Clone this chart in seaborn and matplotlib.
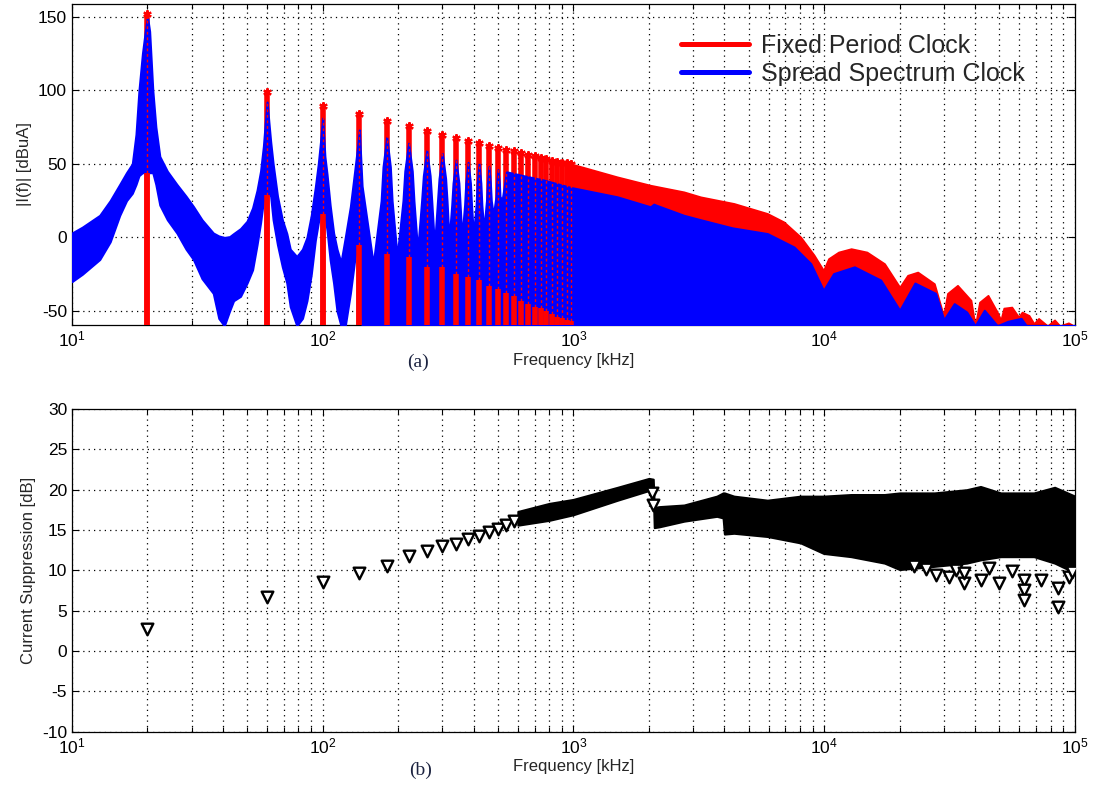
import matplotlib
matplotlib.use("Agg")
import matplotlib.pyplot as plt
from matplotlib.lines import Line2D
import seaborn as sns

# ---- (a) spectrum, values ----
# odd harmonics of the 20 kHz clock that show as separate red stems
harm_f = [20, 60, 100, 140, 180, 220, 260, 300, 340, 380, 420, 460, 500,
          540, 580, 620, 660, 700, 740, 780, 820, 860, 900, 940, 980]
red_peak = [152, 99, 89.5, 84, 79, 75.5, 72, 69.5, 67.5, 65.5, 64, 62, 61,
            59.5, 58.5, 57.5, 56, 55, 54, 53, 52, 51.5, 50.8, 50.3, 50]
# top of the solid part of each red stem (below the blue band)
red_base = [44, 29, 16, -5, -11, -13, -20, -20, -25, -27, -29, -33, -35,
            -38, -40, -43, -45, -47, -48, -50, -52, -54, -55, -56, -57]

# red envelope where the stems merge (kHz, dBuA)
red_env_f = [980, 1494, 2028, 2757, 3214, 4365, 5935, 6902, 8057, 9113, 9930,
             10400, 11400, 12800, 14800, 17400, 20000, 21500, 23600, 27500,
             29900, 31000, 34000, 38500, 40000, 41600, 45000, 49000, 50600,
             52000, 56000, 59600, 61500, 65600, 68600, 71600, 77700, 82900,
             87000, 94200, 98900]
red_env_v = [50, 41.2, 35.5, 31, 27.6, 23.1, 16.3, 10.6, 0.3, -12, -22.3,
             -14.4, -9.9, -7.6, -9.9, -17.8, -33.7, -25.7, -23.5, -31.4,
             -53, -38, -32.5, -42.7, -60, -44, -39.3, -50.7, -56,
             -48, -47.3, -54, -50.7, -53, -58.5, -55, -60, -56,
             -60, -58, -60]

# spread spectrum band, 10-140 kHz: upper and lower edge
lobe_f = [10, 11, 12.9, 14.2, 15.5, 16.5, 17.4, 18.0, 18.5, 19.1, 19.6, 20.0,
          20.4, 21.0, 21.6, 22.4, 24.0, 26.2, 28.5, 30.5, 33.0, 36.6, 38.5,
          40.5, 42.5, 44.1, 47.0, 49.9, 52.5, 54.7, 56.5, 58.0, 59.0, 60.0,
          61.0, 62.0, 63.4, 66.0, 69.0, 71.9, 74.2, 78.8, 83.0, 86.5, 90.0,
          93.4, 96.0, 98.0, 99.2, 100,
          100.8, 102, 104, 107, 110.5, 114, 118.2, 123, 128.9, 133, 136.5,
          139, 140]
lobe_hi = [3, 7, 15, 25, 36, 44, 50, 70, 100, 125, 140, 150,
           140, 100, 75, 55, 45, 36, 28, 21, 12, 3, 1,
           0, 0.5, 2.6, 6, 11, 20, 32, 45, 62, 78, 92,
           78, 65, 50, 28, 12, 2.6, -8, -13, -8, 0, 15,
           34, 50, 65, 75, 81,
           70, 55, 43, 22, 3, -8, -17, 0, 21, 40, 56,
           68, 73]
lobe_lo = [-30, -25, -15, -3, 15, 25, 30, 36, 42, 44, 44, 44,
           44, 44, 36, 22, 12, 3, -8, -15, -28, -38, -55,
           -60, -50, -43, -40, -31, -22, -5, 10, 25, 30, 29,
           30, 28, 12, -5, -20, -31, -47, -60, -55, -43, -25,
           -2, 10, 16, 16, 16,
           16, 15, 5, -15, -31, -50, -60, -60, -38, -20, -5,
           -10, -10]

# 140-540 kHz: narrower lobes, band reaches the floor
mid_f = [143.5, 159, 171, 174, 180, 186, 189, 198,
         209, 212.5, 220, 227.5, 231, 239,
         248, 252, 260, 268, 272, 279,
         287, 291, 300, 309, 313, 319,
         327, 331, 340, 349, 353, 359,
         368, 372, 380, 388, 392, 399,
         409, 413, 420, 427, 431, 439,
         450, 454, 460, 466, 470, 479,
         491, 494, 500, 506, 509, 519,
         531, 540]
mid_hi = [35, -18, 25, 48, 68, 48, 25, -13,
          25, 45, 64, 45, 25, -9,
          25, 42, 59, 42, 25, -6,
          25, 40, 57, 40, 25, -2,
          22, 37, 52.5, 37, 22, 0,
          22, 37, 51, 37, 22, 1.5,
          22, 37, 50, 37, 22, 5,
          25, 37, 48, 37, 25, 15,
          28, 37, 46, 37, 28, 25,
          36, 44.6]

# upper envelope above 540 kHz
tail_f = [618, 760, 973, 1494, 2028, 2090, 2138, 2757, 3214, 4300,
          5935, 7580, 8838, 9930, 10900, 13200, 16800, 20000, 23000, 27800,
          30000, 33000, 37000, 40000, 43500, 49000, 54000, 61000, 64000, 100000]
tail_hi = [42.3, 39, 34, 27.6, 20.8, 22.6, 21.9, 15, 12, 6.5,
           2.6, -6.5, -17.8, -36, -24.6, -20, -29, -49.5, -31, -38,
           -56, -45, -50.7, -60, -49.5, -60, -57, -55, -60, -60]

# ---- (b) current suppression ----
sup_f = [20, 60, 100, 140, 180, 220, 260, 300, 340, 380, 420, 460, 500, 540, 580]
sup_v = [2.7, 6.7, 8.5, 9.7, 10.5, 11.8, 12.4, 13.0, 13.3, 13.9, 14.3, 14.7,
         15.1, 15.6, 16.1]
band_f = [600, 800, 1000, 1500, 2000, 2080, 2100, 2200, 2760, 3730, 3950, 4000,
          4365, 5935, 8057, 9950, 12800, 17400, 20000, 27500, 37000, 42000,
          50600, 68600, 83000, 100000]
band_lo = [15.6, 16.2, 16.9, 18.7, 19.9, 19.8, 15.3, 15.4, 16.1, 16.7, 16.5, 14.5,
           14.6, 14.2, 13.4, 12.1, 11.7, 10.9, 10.1, 10.5, 10.9, 11.3,
           11.7, 11.7, 10.9, 9.7]
band_hi = [17.3, 18.3, 18.8, 20.3, 21.4, 21.3, 17.8, 17.9, 18.1, 19.2, 19.6, 19.6,
           19.2, 18.7, 19.2, 19.2, 19.4, 19.4, 19.6, 19.6, 20.0, 20.4,
           19.6, 19.6, 20.3, 19.2]
out_f = [2050, 2070, 22900, 25500, 27900, 31500, 33500, 36200, 36200,
         42200, 45500, 49900, 56000, 62800, 62800, 62800, 73100, 85300, 85300,
         94900, 97000]
out_v = [19.6, 18.1, 10.5, 10.2, 9.4, 9.2, 10.0, 8.4, 9.7,
         8.8, 10.3, 8.4, 9.9, 8.8, 7.6, 6.3, 8.8, 7.8, 5.5,
         9.2, 9.8]

sns.set_style("ticks")
plt.rcParams['font.family'] = ['Liberation Sans', 'DejaVu Sans']
plt.rcParams['mathtext.fontset'] = 'custom'
plt.rcParams['mathtext.rm'] = 'Liberation Sans'
plt.rcParams['axes.unicode_minus'] = False

fig = plt.figure(figsize=(10.94, 7.89), dpi=100)
ax1 = fig.add_axes([0.0658, 0.5881, 0.9168, 0.4068])
ax2 = fig.add_axes([0.0658, 0.0726, 0.9168, 0.409])

# top panel
blue_f = lobe_f + mid_f + tail_f
blue_hi = lobe_hi + mid_hi + tail_hi
blue_lo = lobe_lo + [-60] * (len(mid_f) + len(tail_f))

ax1.fill_between(red_env_f, -60, red_env_v, color='red', edgecolor='red', lw=1.2, zorder=2)
ax1.vlines(harm_f, -60, red_peak, color='red', lw=4, zorder=2)
ax1.fill_between(blue_f, blue_lo, blue_hi, color='blue', edgecolor='blue', lw=1.5, zorder=3)
ax1.vlines(harm_f, -60, red_base, color='red', lw=4, zorder=4)
ax1.vlines(harm_f, red_base, red_peak, color='red', lw=1, linestyles=(0, (2, 2)), zorder=4)
ax1.plot(harm_f, red_peak, ls='none', marker=(6, 2, 0), ms=6, mew=1.5, color='red', zorder=5)

handles = [Line2D([], [], color='red', lw=3.6), Line2D([], [], color='blue', lw=3.6)]
ax1.legend(handles, ['Fixed Period Clock', 'Spread Spectrum Clock'], loc='center left',
           bbox_to_anchor=(0.6075, 0.8255), frameon=False,
           prop={'family': 'Liberation Sans', 'size': 18},
           handlelength=2.7, handletextpad=0.5, labelspacing=0.15,
           borderpad=0, borderaxespad=0)

ax1.set_ylim(-59.5, 158.6)
ax1.set_yticks([-50, 0, 50, 100, 150])
ax1.set_ylabel('|I(f)| [dBuA]', fontsize=12, labelpad=4)
ax1.set_xlabel('Frequency [kHz]', fontsize=12, labelpad=2)

# bottom panel
ax2.fill_between(band_f, band_lo, band_hi, color='black', edgecolor='black', lw=1.5, zorder=3)
sns.scatterplot(x=sup_f, y=sup_v, ax=ax2, marker='v', s=70, facecolor='white',
                edgecolor='black', linewidth=1.7, zorder=4)
sns.scatterplot(x=out_f, y=out_v, ax=ax2, marker='v', s=70, facecolor='white',
                edgecolor='black', linewidth=1.7, zorder=4)
ax2.set_ylim(-10, 30)
ax2.set_yticks(range(-10, 31, 5))
ax2.set_ylabel('Current Suppression [dB]', fontsize=12, labelpad=4)
ax2.set_xlabel('Frequency [kHz]', fontsize=12, labelpad=2)

for ax in (ax1, ax2):
    ax.set_xscale('log')
    ax.set_xlim(10, 1e5)
    ax.grid(True, which='major', axis='both', color='k', lw=0.9, linestyle=(0, (1, 3.3)))
    ax.grid(True, which='minor', axis='x', color='k', lw=0.9, linestyle=(0, (1, 3.3)))
    ax.set_axisbelow(True)
    ax.tick_params(which='both', direction='in', top=True, right=True, labelsize=12.5, colors='k')
    ax.tick_params(which='major', length=5, width=0.8)
    ax.tick_params(which='minor', length=3.5, width=0.8)
    for s in ax.spines.values():
        s.set_color('k')
        s.set_linewidth(0.9)

fig.text(0.382, 0.541, '(a)', family='Liberation Serif', fontsize=14,
         color='#1c2340', ha='center', va='center')
fig.text(0.384, 0.024, '(b)', family='Liberation Serif', fontsize=14,
         color='#1c2340', ha='center', va='center')

fig.savefig('out.png', dpi=100, facecolor='white')
